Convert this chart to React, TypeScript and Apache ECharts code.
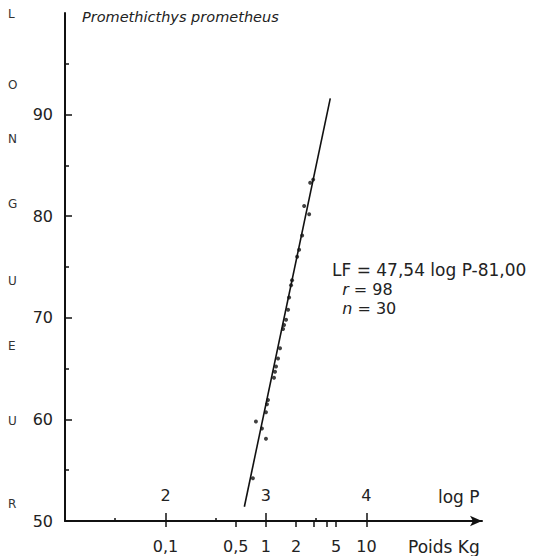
import React, { useEffect, useRef } from "react";
import * as echarts from "echarts";

// log P (P in grams) and fork length LF (cm)
const logP = [3.47, 3.44, 3.38, 3.43, 3.36, 3.31, 3.25, 3.26, 3.23, 3.22, 3.2, 3.18, 3.17, 3.12, 3.1, 3.09, 3.08, 3.02, 3.01, 3.0, 2.9, 2.96, 3.0, 2.87, 3.33, 3.14];
const lengthLF = [83.6, 83.3, 81.0, 80.2, 78.1, 76.0, 73.2, 73.7, 72.0, 70.8, 69.8, 69.3, 68.9, 66.0, 65.2, 64.7, 64.1, 61.9, 61.5, 60.7, 59.8, 59.1, 58.1, 54.2, 76.7, 67.0];

// regression line end points (log P, LF)
const lineLogP = [2.785, 3.64];
const lineLF = [51.4, 91.6];

// axis tick labels
const logPTicks = [2, 3, 4];
const logPHalfTicks = [1.5, 2.5, 3.5];
const kgLabelValues = [0.1, 0.5, 1, 2, 5, 10];
const kgLabels = ["0,1", "0,5", "1", "2", "5", "10"];
const kgTickValues = [0.1, 0.5, 1, 2, 3, 4, 5, 10];
const yTicks = [50, 60, 70, 80, 90];

const axisLetters = ["L", "O", "N", "G", "U", "E", "U", "R"];
const letterY = [15, 86, 140, 205, 282, 347, 422, 505];

const FONT = "DejaVu Sans";
const TXT = "#222";

export default function App() {
  const ref = useRef<HTMLDivElement>(null);
  useEffect(() => {
    if (!ref.current) return;
    const chart = echarts.init(ref.current, undefined, { renderer: "svg" });
    const toG = (kg: number) => Math.log10(kg * 1000);
    const kgLabelPos = kgLabelValues.map(toG);
    const common = { type: "value", min: 1, max: 5.15, gridIndex: 0, splitLine: { show: false } };
    chart.setOption({
      animation: false,
      backgroundColor: "#fff",
      textStyle: { fontFamily: FONT },
      grid: { left: 65, top: 13, width: 417, height: 508 },
      xAxis: [
        {
          ...common,
          position: "bottom",
          axisLine: { show: true, lineStyle: { color: "#111", width: 2 }, symbol: ["none", "arrow"], symbolSize: [8, 12] },
          axisTick: { show: true, inside: true, length: 8, customValues: logPTicks, lineStyle: { color: "#111", width: 1.5 } },
          axisLabel: {
            show: true, inside: true, margin: 18, customValues: logPTicks,
            color: TXT, fontSize: 16, fontFamily: FONT,
          },
        },
        {
          ...common,
          position: "bottom",
          axisLine: { show: false },
          axisTick: { show: true, inside: false, length: 6, customValues: kgTickValues.map(toG), lineStyle: { color: "#111", width: 1.5 } },
          axisLabel: {
            show: true, margin: 17, customValues: kgLabelPos, color: TXT, fontSize: 16, fontFamily: FONT,
            formatter: (v: number) => {
              let best = 0;
              kgLabelPos.forEach((p, i) => { if (Math.abs(p - v) < Math.abs(kgLabelPos[best] - v)) best = i; });
              return kgLabels[best];
            },
          },
        },
        {
          ...common,
          position: "bottom",
          axisLine: { show: false },
          axisTick: { show: true, inside: true, length: 3, customValues: logPHalfTicks, lineStyle: { color: "#111", width: 1.5 } },
          axisLabel: { show: false },
        },
      ],
      yAxis: {
        type: "value",
        min: 50,
        max: 100,
        interval: 10,
        splitLine: { show: false },
        axisLine: { show: true, lineStyle: { color: "#111", width: 2 } },
        axisTick: { show: true, inside: true, length: 7, customValues: yTicks, lineStyle: { color: "#111", width: 1.5 } },
        minorTick: { show: true, splitNumber: 2, length: 4, lineStyle: { color: "#111", width: 1.5 } },
        axisLabel: { margin: 12, color: TXT, fontSize: 16, fontFamily: FONT, customValues: yTicks },
      },
      series: [
        {
          type: "line",
          xAxisIndex: 0,
          data: lineLogP.map((x, i) => [x, lineLF[i]]),
          symbol: "none",
          lineStyle: { color: "#111", width: 1.6 },
        },
        {
          type: "scatter",
          xAxisIndex: 0,
          data: logP.map((x, i) => [x, lengthLF[i]]),
          symbol: "circle",
          symbolSize: 4,
          itemStyle: { color: "#111" },
        },
      ],
      graphic: [
        ...axisLetters.map((ch, i) => ({
          type: "text", left: 8, top: letterY[i] - 7,
          style: { text: ch, fontSize: 12, fill: "#333", fontFamily: FONT },
        })),
        {
          type: "text", left: 82, top: 9,
          style: { text: "Promethicthys prometheus", fontSize: 14.5, fontStyle: "italic", fill: "#222", fontFamily: FONT },
        },
        {
          type: "text", left: 438, top: 488,
          style: { text: "log P", fontSize: 17, fill: TXT, fontFamily: FONT },
        },
        {
          type: "text", left: 408, top: 538,
          style: { text: "Poids Kg", fontSize: 17, fill: TXT, fontFamily: FONT },
        },
        {
          type: "text", left: 332, top: 260,
          style: {
            text: "{h|LF = 47,54 log P-81,00}\n{t|  }{i|r}{t| = 98}\n{t|  }{i|n}{t| = 30}",
            fontSize: 16, lineHeight: 19, fill: TXT, fontFamily: FONT,
            rich: {
              h: { fontSize: 17, lineHeight: 20, fontFamily: FONT, fill: TXT },
              t: { fontSize: 16, lineHeight: 19, fontFamily: FONT, fill: TXT },
              i: { fontStyle: "italic", fontSize: 16, lineHeight: 19, fontFamily: FONT, fill: TXT },
            },
          },
        },
      ],
    });
    return () => chart.dispose();
  }, []);
  return (
    <div
      ref={ref}
      style={{ position: "absolute", left: 0, top: 0, width: 560, height: 556, background: "#fff" }}
    />
  );
}
